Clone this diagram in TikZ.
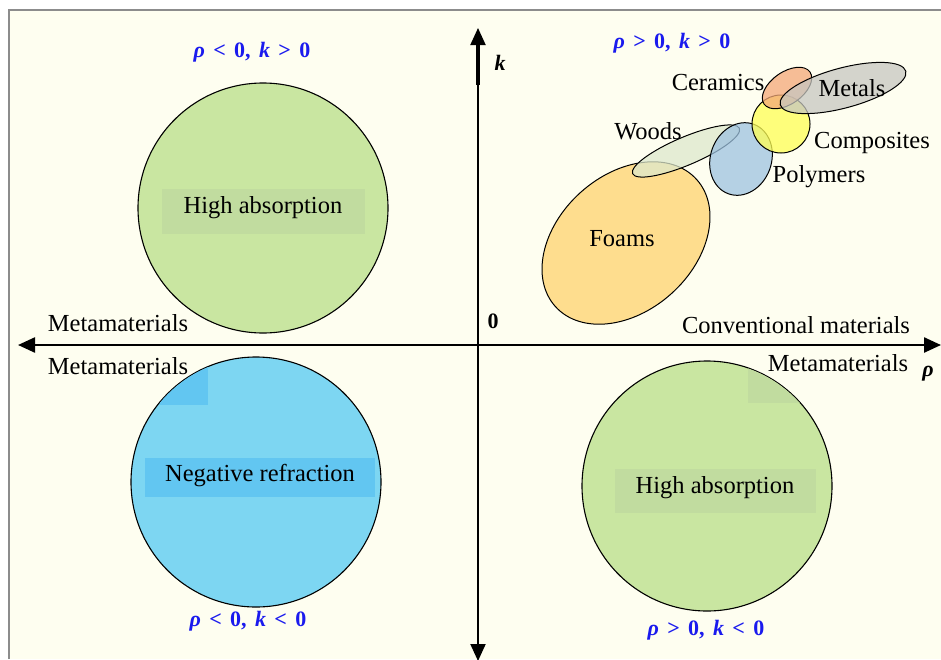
\documentclass[tikz,border=0pt]{standalone}
\usepackage{fontspec}
\setmainfont{Liberation Serif}
\usetikzlibrary{shapes.geometric,arrows.meta}
\definecolor{cream}{HTML}{FEFEF0}
\definecolor{bordergray}{HTML}{8C8C8C}
\definecolor{greenfill}{HTML}{C9E6A1}
\definecolor{greenrect}{HTML}{C1DC9F}
\definecolor{bluefill}{HTML}{7DD6F2}
\definecolor{bluerect}{HTML}{62C6F1}
\definecolor{labelblue}{HTML}{1A1AEE}
\definecolor{foamfill}{HTML}{FFD36E}
\definecolor{woodfill}{HTML}{DDE8CC}
\definecolor{polyfill}{HTML}{9DC2E0}
\definecolor{compfill}{HTML}{FFFF55}
\definecolor{ceramfill}{HTML}{F4A878}
\definecolor{metalfill}{HTML}{C6C6C0}
\newcommand{\bi}[1]{{\bfseries\itshape #1}}
\newcommand{\relsp}{\hspace{0.38em}}
\tikzset{
  txt/.style={font=\fontsize{24.5}{28}\selectfont, text=black, inner sep=0pt},
  quad/.style={font=\fontsize{22}{26}\selectfont\bfseries, text=labelblue, inner sep=0pt},
  axislbl/.style={font=\fontsize{22}{26}\selectfont\bfseries, inner sep=0pt},
  region/.style={circle, draw=black, line width=1.1pt, inner sep=0pt, minimum size=250pt},
  material/.style={ellipse, draw=black, line width=1pt, fill opacity=0.75, inner sep=0pt},
  axisline/.style={line width=2.4pt, {Triangle[length=17pt,width=15pt]}-{Triangle[length=17pt,width=15pt]}},
}
\begin{document}
\begin{tikzpicture}[x=1pt,y=-1pt]
\useasboundingbox (0,0) rectangle (941,659);
% background
\fill[cream] (9,10) rectangle (941,659);
\draw[bordergray, line width=1.3pt] (9,659) -- (9,10) -- (941,10);

% region circles
\node[region, fill=greenfill] (tl) at (263,208) {};
\begin{scope}
  \clip (263,208) circle (124.5);
  \fill[greenrect] (162,189) rectangle (365,234);
\end{scope}
\node[txt] (tltxt) at (263,208) {High absorption};

\node[region, fill=bluefill] (bl) at (256,482) {};
\begin{scope}
  \clip (256,482) circle (124.5);
  \fill[bluerect] (160,355) rectangle (208,405);
  \fill[bluerect] (145,458) rectangle (375,497);
\end{scope}
\node[txt] (bltxt) at (260,476) {Negative refraction};

\node[region, fill=greenfill] (br) at (707,486) {};
\begin{scope}
  \clip (707,486) circle (124.5);
  \fill[greenrect] (748,355) rectangle (830,403);
  \fill[greenrect] (615,469) rectangle (816,513);
\end{scope}
\node[txt] (brtxt) at (715,488) {High absorption};

% axes
\coordinate (xl) at (18,345);
\coordinate (xr) at (941,345);
\coordinate (yt) at (478,28);
\coordinate (yb) at (478,661);
\coordinate (ythick) at (478,85);
\draw[axisline] (xl) -- (xr);
\draw[axisline, line width=2pt] (yb) -- (yt);
\draw[line width=4pt] (ythick) -- ++(0,-45);

\node[axislbl] (klbl) at (500,63) {\itshape k};
\node[axislbl] (rholbl) at (928,374) {\itshape ρ};
\node[axislbl] (zero) at (493,321) {0};

% quadrant labels
\node[quad] (q2) at (252,52) {\bi{ρ}\relsp<\relsp0,\relsp\bi{k}\relsp>\relsp0};
\node[quad] (q1) at (672,43) {\bi{ρ}\relsp>\relsp0,\relsp\bi{k}\relsp>\relsp0};
\node[quad] (q3) at (248,621) {\bi{ρ}\relsp<\relsp0,\relsp\bi{k}\relsp<\relsp0};
\node[quad] (q4) at (706,630) {\bi{ρ}\relsp>\relsp0,\relsp\bi{k}\relsp<\relsp0};

% material labels
\node[txt] (mm1) at (118,323) {Metamaterials};
\node[txt] (mm2) at (118,366) {Metamaterials};
\node[txt] (mm3) at (838,363) {Metamaterials};
\node[txt] (conv) at (796,325) {Conventional materials};

% materials
\node[material, fill=foamfill, minimum width=190pt, minimum height=136pt, rotate=42] (foams) at (626,243) {};
\node[txt] (foamtxt) at (622,239) {Foams};
\node[material, fill=woodfill, minimum width=116pt, minimum height=28pt, rotate=23] (woods) at (686,151) {};
\node[material, fill=polyfill, minimum width=74pt, minimum height=61pt, rotate=70] (poly) at (741,159) {};
\node[material, fill=compfill, minimum width=58pt, minimum height=58pt] (comp) at (781,124) {};
\node[material, fill=ceramfill, minimum width=56pt, minimum height=32pt, rotate=35] (ceram) at (787,88) {};
\node[material, fill=metalfill, minimum width=130pt, minimum height=40pt, rotate=15] (metal) at (843,88) {};

\node[txt] (woodtxt) at (648,131) {Woods};
\node[txt] (ceramtxt) at (718,83) {Ceramics};
\node[txt] (metaltxt) at (852,88) {Metals};
\node[txt] (comptxt) at (872,143) {Composites};
\node[txt] (polytxt) at (819,177) {Polymers};
\end{tikzpicture}
\end{document}
